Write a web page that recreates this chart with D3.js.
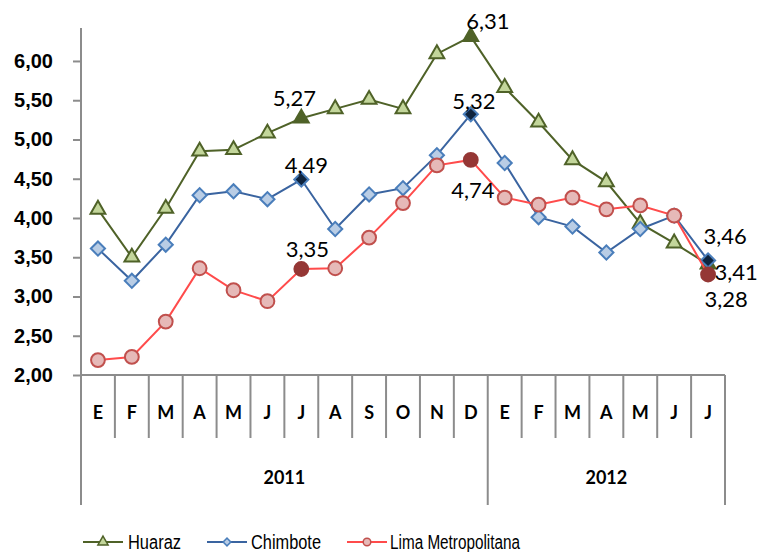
<!DOCTYPE html>
<html>
<head>
<meta charset="utf-8">
<script src="https://cdn.jsdelivr.net/npm/d3@7"></script>
<style>
  body { margin: 0; background: #fff; }
  svg { display: block; }
</style>
</head>
<body>
<div class="canvas"></div>
<script>
// data
const months = ['E','F','M','A','M','J','J','A','S','O','N','D','E','F','M','A','M','J','J'];
const years = [{ name: '2011', from: 0, to: 12 }, { name: '2012', from: 12, to: 19 }];
const huaraz = [4.11, 3.50, 4.12, 4.85, 4.87, 5.08, 5.27, 5.39, 5.51, 5.39, 6.09, 6.31, 5.66, 5.22, 4.74, 4.46, 3.93, 3.68, 3.41];
const chimbote = [3.61, 3.20, 3.66, 4.29, 4.34, 4.24, 4.49, 3.86, 4.30, 4.38, 4.80, 5.32, 4.70, 4.01, 3.89, 3.56, 3.86, 4.03, 3.46];
const lima = [2.19, 2.23, 2.68, 3.36, 3.08, 2.94, 3.35, 3.36, 3.75, 4.19, 4.67, 4.74, 4.26, 4.17, 4.26, 4.11, 4.16, 4.03, 3.28];
const yTicks = [2, 2.5, 3, 3.5, 4, 4.5, 5, 5.5, 6];

const series = [
  { name: 'Huaraz', values: huaraz, line: '#4f6228', fill: '#c3d69b', stroke: '#4f6228', dark: '#4f6228',
    shape: d3.symbolTriangle, size: 95, rotate: 0, labels: [6, 11, 18], legendWidth: 53 },
  { name: 'Chimbote', values: chimbote, line: '#3a64a0', fill: '#b9cde5', stroke: '#4a7ebb', dark: '#0f243e',
    shape: d3.symbolSquare, size: 100, rotate: 45, labels: [6, 11, 18], legendWidth: 70 },
  { name: 'Lima Metropolitana', values: lima, line: '#ff4b4b', fill: '#e6b9b8', stroke: '#c0504d', dark: '#953735',
    shape: d3.symbolCircle, size: 150, rotate: 0, labels: [6, 11, 18], legendWidth: 130 }
];

// label offsets relative to the point (series index -> point index -> [dx, dy])
const labelPos = [
  { 6: [-7, -21], 11: [17, -16], 18: [28, 7] },
  { 6: [5, -15], 11: [3, -14], 18: [17, -25] },
  { 6: [6, -21], 11: [2, 30], 18: [18, 24] }
];

const dims = { width: 762, height: 552 };
const plot = { left: 81, right: 725, top: 28, bottom: 375 };

const svg = d3.select('.canvas')
  .append('svg')
  .attr('width', dims.width)
  .attr('height', dims.height);

const x = d3.scaleBand()
  .domain(d3.range(months.length))
  .range([plot.left, plot.right]);

const y = d3.scaleLinear()
  .domain([2, 6.42])
  .range([plot.bottom, plot.top]);

const axisColor = '#8c8c8c';

// y axis
const yAxis = d3.axisLeft(y)
  .tickValues(yTicks)
  .tickSize(8)
  .tickPadding(20)
  .tickFormat(d => d3.format('.2f')(d).replace('.', ','));

const yG = svg.append('g')
  .attr('transform', `translate(${plot.left}, 0)`)
  .call(yAxis);
yG.select('.domain').remove();
yG.selectAll('line').attr('stroke', axisColor).attr('stroke-width', 2);
yG.selectAll('text')
  .attr('font-family', 'Liberation Sans, Arial, sans-serif')
  .attr('font-weight', 'bold')
  .attr('font-size', 20)
  .attr('fill', '#000');

// axis lines
svg.append('line')
  .attr('x1', plot.left).attr('x2', plot.left)
  .attr('y1', plot.top).attr('y2', 505)
  .attr('stroke', axisColor).attr('stroke-width', 2);
svg.append('line')
  .attr('x1', plot.left).attr('x2', plot.right)
  .attr('y1', plot.bottom).attr('y2', plot.bottom)
  .attr('stroke', axisColor).attr('stroke-width', 2);

// month ticks and labels
const monthG = svg.append('g');
monthG.selectAll('line')
  .data(d3.range(1, months.length + 1))
  .enter().append('line')
  .attr('x1', i => x(i - 1) + x.bandwidth())
  .attr('x2', i => x(i - 1) + x.bandwidth())
  .attr('y1', plot.bottom)
  .attr('y2', i => (i === 12 || i === months.length) ? 505 : 438)
  .attr('stroke', axisColor).attr('stroke-width', 2);

monthG.selectAll('text')
  .data(months)
  .enter().append('text')
  .attr('x', (d, i) => x(i) + x.bandwidth() / 2)
  .attr('y', 419)
  .attr('text-anchor', 'middle')
  .attr('font-family', 'Lato, sans-serif')
  .attr('font-weight', 'bold')
  .attr('font-size', 18)
  .text(d => d);

svg.append('g').selectAll('text')
  .data(years)
  .enter().append('text')
  .attr('x', d => (x(d.from) + x(d.to - 1) + x.bandwidth()) / 2)
  .attr('y', 484)
  .attr('text-anchor', 'middle')
  .attr('font-family', 'Lato, sans-serif')
  .attr('font-weight', 'bold')
  .attr('font-size', 18)
  .text(d => d.name);

// lines and markers
const line = d3.line()
  .x((d, i) => x(i) + x.bandwidth() / 2)
  .y(d => y(d));

series.forEach((s, si) => {
  const g = svg.append('g');
  g.append('path')
    .datum(s.values)
    .attr('d', line)
    .attr('fill', 'none')
    .attr('stroke', s.line)
    .attr('stroke-width', 2);

  g.selectAll('path.marker')
    .data(s.values)
    .enter().append('path')
    .attr('class', 'marker')
    .attr('d', d3.symbol().type(s.shape).size(s.size))
    .attr('transform', (d, i) => `translate(${x(i) + x.bandwidth() / 2}, ${y(d)}) rotate(${s.rotate})`)
    .attr('fill', (d, i) => s.labels.includes(i) ? s.dark : s.fill)
    .attr('stroke', (d, i) => s.labels.includes(i) && si !== 1 ? s.dark : s.stroke)
    .attr('stroke-width', 2);
});

// data labels
series.forEach((s, si) => {
  svg.append('g').selectAll('text')
    .data(s.labels)
    .enter().append('text')
    .attr('x', i => x(i) + x.bandwidth() / 2 + labelPos[si][i][0])
    .attr('y', i => y(s.values[i]) + labelPos[si][i][1])
    .attr('text-anchor', 'middle')
    .attr('dominant-baseline', 'central')
    .attr('font-family', 'Lato, sans-serif')
    .attr('font-size', 22)
    .attr('fill', '#000')
    .text(i => d3.format('.2f')(s.values[i]).replace('.', ','));
});

// legend
const legendItems = [
  { x: 83, text: 128 },
  { x: 207, text: 251 },
  { x: 347, text: 390 }
];
const legend = svg.append('g');
series.forEach((s, si) => {
  const p = legendItems[si];
  legend.append('line')
    .attr('x1', p.x).attr('x2', p.x + 40)
    .attr('y1', 542).attr('y2', 542)
    .attr('stroke', s.line).attr('stroke-width', 2);
  legend.append('path')
    .attr('d', d3.symbol().type(s.shape).size(s.shape === d3.symbolSquare ? 30 : 45))
    .attr('transform', `translate(${p.x + 20}, 542) rotate(${s.rotate})`)
    .attr('fill', s.fill)
    .attr('stroke', s.stroke)
    .attr('stroke-width', 1.5);
  legend.append('text')
    .attr('x', p.text)
    .attr('y', 549)
    .attr('font-family', 'Liberation Sans, Arial, sans-serif')
    .attr('font-size', 20)
    .attr('textLength', s.legendWidth)
    .attr('lengthAdjust', 'spacingAndGlyphs')
    .attr('fill', '#000')
    .text(s.name);
});
</script>
</body>
</html>
